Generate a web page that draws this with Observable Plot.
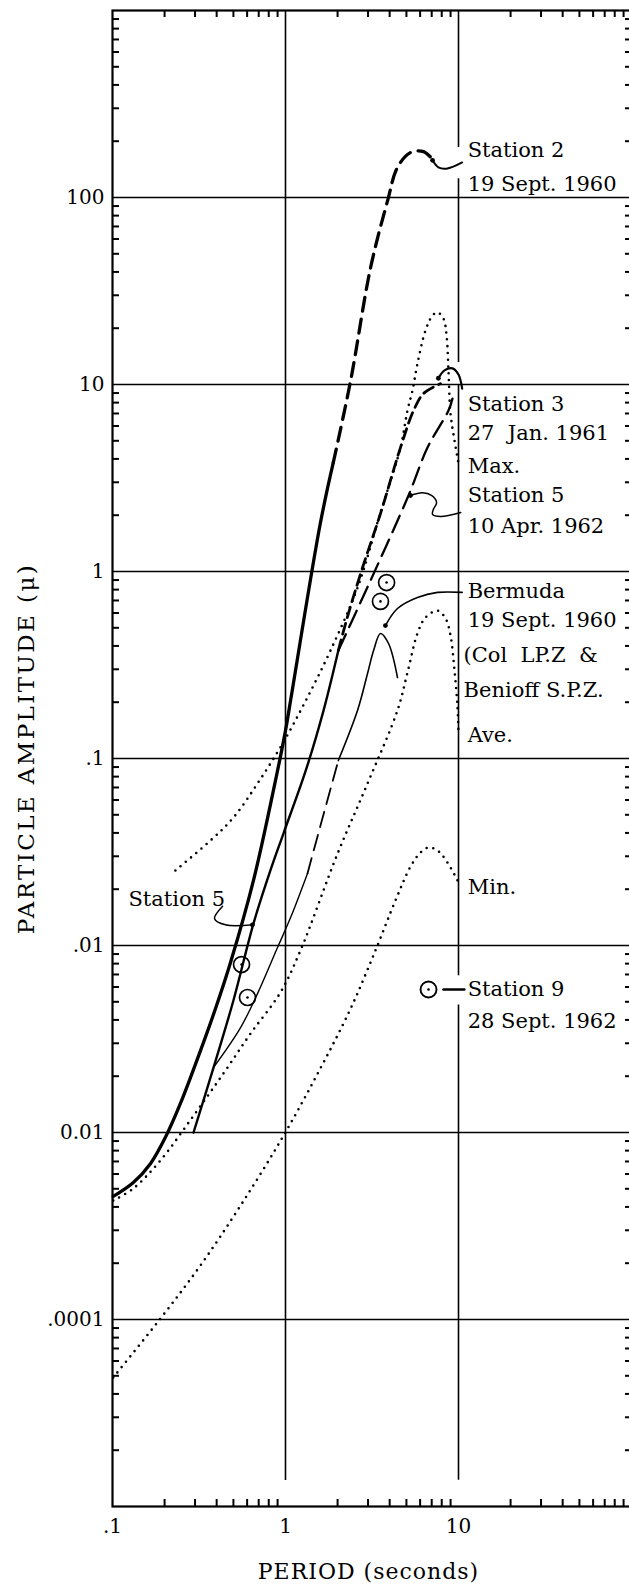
<!DOCTYPE html>
<html><head><meta charset="utf-8">
<script src="https://cdn.jsdelivr.net/npm/d3@7"></script>
<script src="https://cdn.jsdelivr.net/npm/@observablehq/plot@0.6"></script>
<style>
html,body{margin:0;padding:0;background:#fff;}
#chart svg{display:block;}
</style></head>
<body><div id="chart"></div>
<script>
// ---------- data: [period (s), particle amplitude (micron)] ----------
const station2Solid = [[0.101,4.55e-4],[0.132,5.4e-4],[0.166,6.83e-4],[0.202,9.4e-4],[0.247,1.43e-3],[0.323,2.75e-3],[0.394,4.6e-3],[0.481,8.11e-3],[0.653,0.0223],[0.875,0.0762],[1.0,0.141],[1.07,0.204],[1.59,1.81],[1.89,3.83]];
const station2Dashed = [[1.89,3.83],[2.38,10.5],[3.10,42],[3.89,96],[4.44,145],[5.28,174],[6.28,176],[7.16,158]];
const station5Solid = [[0.294,0.001],[0.384,0.00223],[0.500,0.00508],[0.653,0.0131],[0.818,0.0252],[0.973,0.0397],[1.31,0.0863],[1.66,0.181],[2.02,0.378]];
const station5Dashed = [[2.02,0.378],[3.10,0.895],[5.14,2.55],[6.62,4.6],[8.75,7.26],[9.23,8.4]];
const station3Dashed = [[2.02,0.378],[2.31,0.596],[2.79,1.05],[3.54,2.04],[4.62,4.6],[5.50,7.26],[6.28,8.95],[7.87,10.1]];
const bermudaLow = [[0.384,0.00223],[0.550,0.00364],[0.689,0.00553],[0.899,0.00975],[1.07,0.0141],[1.34,0.0243]];
const bermudaMid = [[1.34,0.0243],[1.64,0.0483],[2.02,0.0975]];
const bermudaHigh = [[2.02,0.0975],[2.61,0.181],[2.98,0.285],[3.23,0.378],[3.54,0.466],[3.94,0.412],[4.44,0.271]];
const bermudaMax = [[0.231,0.0252],[0.368,0.0364],[0.500,0.0483],[0.689,0.0735],[0.961,0.120],[1.31,0.204],[1.82,0.378],[2.61,0.821],[3.54,2.07],[4.62,4.60],[5.07,7.26],[5.42,9.3],[5.79,12.9],[6.44,19.4],[7.08,23.4],[7.57,24.3],[8.19,22.5],[8.53,18.3],[8.75,11.9],[8.99,7.0],[9.48,5.02],[10.0,3.78]];
const bermudaAve = [[0.101,4.33e-4],[0.132,5.02e-4],[0.189,7.08e-4],[0.294,1.23e-3],[0.438,2.07e-3],[0.628,3.38e-3],[0.935,5.61e-3],[1.22,9.4e-3],[2.00,0.031],[2.98,0.0735],[4.44,0.181],[5.07,0.288],[5.79,0.466],[6.44,0.567],[7.57,0.618],[8.42,0.561],[8.99,0.455],[9.48,0.296],[9.86,0.192],[10.0,0.136]];
const bermudaMin = [[0.101,4.9e-5],[0.189,1.01e-4],[0.323,1.95e-4],[0.550,4.07e-4],[0.973,9.6e-4],[1.59,2.2e-3],[2.38,4.6e-3],[3.31,9.4e-3],[4.32,0.0174],[5.28,0.0264],[6.03,0.0314],[6.71,0.0334],[7.57,0.0322],[8.63,0.0278],[9.86,0.0223]];
const circlePoints = [[3.84,0.873],[3.54,0.692],[0.557,0.00791],[0.603,0.00527]];
const station9Point = [[6.71,0.00582]];

// leaders (annotation connectors)
const station2Leader = [[7.08,158],[7.65,145],[8.63,143],[10.5,154]];
const station3Leader = [[7.65,10.8],[8.30,11.9],[9.23,12.2],[10.0,11.3],[10.5,9.5]];
const station5Leader = [[5.28,2.55],[6.19,2.64],[6.98,2.55],[7.47,2.34],[7.16,2.15],[7.08,2.02],[7.87,1.97],[10.3,2.07]];
const bermudaLeader = [[3.78,0.514],[4.44,0.634],[5.79,0.726],[7.57,0.773],[10.5,0.773]];
const station5LeftLeader = [[0.433,0.0162],[0.389,0.0139],[0.450,0.0129],[0.644,0.0129]];
const station9Leader = [[8.19,0.00582],[10.8,0.00582]];
const leaderTips = [[7.08,158],[5.28,2.55],[3.78,0.514],[0.644,0.0129],[7.65,10.8]];

// axes
const xTickValues = [0.1, 1, 10];
const xTickLabels = [".1", "1", "10"];
const yTickValues = [1e-4, 1e-3, 1e-2, 1e-1, 1, 10, 100];
const yTickLabels = [".0001", "0.01", ".01", ".1", "1", "10", "100"];
const gridY = [1e-4, 1e-3, 1e-2, 1e-1, 1, 10, 100];
const decadesY = [1e-5, 1e-4, 1e-3, 1e-2, 1e-1, 1, 10, 100];
const decadesX = [0.1, 1, 10];
const multiples = [2, 3, 4, 5, 6, 7, 8, 9];
const minorY = decadesY.flatMap(d => multiples.map(m => d * m));
const minorX = decadesX.flatMap(d => multiples.map(m => d * m));
const tenSegments = [{y1: 1000, y2: 185}, {y1: 126, y2: 13.1}, {y1: 10, y2: 0.0069}, {y1: 0.0048, y2: 1.38e-5}];

// annotation texts
const labels = [
  {t: "Station 2", x: 11.3, y: 164},
  {t: "19 Sept. 1960", x: 11.3, y: 109},
  {t: "Station 3", x: 11.3, y: 7.26},
  {t: "27  Jan. 1961", x: 11.3, y: 5.02},
  {t: "Max.", x: 11.3, y: 3.38},
  {t: "Station 5", x: 11.3, y: 2.34},
  {t: "10 Apr. 1962", x: 11.3, y: 1.60},
  {t: "Bermuda", x: 11.3, y: 0.726},
  {t: "19 Sept. 1960", x: 11.3, y: 0.502},
  {t: "(Col  LP.Z  &", x: 10.7, y: 0.330},
  {t: "Benioff S.P.Z.", x: 10.7, y: 0.212},
  {t: "Ave.", x: 11.3, y: 0.122},
  {t: "Min.", x: 11.3, y: 0.01875},
  {t: "Station 9", x: 11.3, y: 0.0054},
  {t: "28 Sept. 1962", x: 11.3, y: 0.00364},
  {t: "Station 5", x: 0.1237, y: 0.0162}
];

const F = "DejaVu Serif";
const X = d => d[0], Y = d => d[1];
const line = (data, o) => Plot.line(data, {x: X, y: Y, stroke: "black", curve: "catmull-rom", strokeLinejoin: "round", ...o});
const dotted = {strokeWidth: 2.6, strokeDasharray: "0 6.8", strokeLinecap: "round"};

const chart = Plot.plot({
  width: 629, height: 1591,
  marginLeft: 112, marginTop: 10, marginRight: -2, marginBottom: 85,
  x: {type: "log", domain: [0.1, 100], axis: null},
  y: {type: "log", domain: [1e-5, 1000], axis: null},
  style: {fontFamily: F, background: "white", color: "black", overflow: "visible"},
  marks: [
    Plot.ruleY(gridY, {stroke: "black", strokeWidth: 1.6}),
    Plot.ruleX([1], {stroke: "black", strokeWidth: 1.6, insetBottom: 26}),
    Plot.ruleX(tenSegments, {x: 10, y1: "y1", y2: "y2", stroke: "black", strokeWidth: 1.6}),
    Plot.tickY(minorY, {stroke: "black", strokeWidth: 2, insetRight: 519 - 7}),
    Plot.tickY(minorY, {stroke: "black", strokeWidth: 2, insetLeft: 519 - 6}),
    Plot.tickX(minorX, {stroke: "black", strokeWidth: 2, insetBottom: 1496 - 7}),
    Plot.tickX(minorX, {stroke: "black", strokeWidth: 2, insetTop: 1496 - 7}),
    Plot.frame({stroke: "black", strokeWidth: 2.2}),

    // Bermuda dotted envelopes
    line(bermudaMax, dotted),
    line(bermudaAve, dotted),
    line(bermudaMin, dotted),
    // Bermuda measured (thin)
    line(bermudaLow, {strokeWidth: 1.4}),
    line(bermudaMid, {strokeWidth: 1.8, strokeDasharray: "16 8"}),
    line(bermudaHigh, {strokeWidth: 1.6}),
    // Station 2
    line(station2Solid, {strokeWidth: 3.3}),
    line(station2Dashed, {strokeWidth: 3.3, strokeDasharray: "14 8"}),
    // Station 5
    line(station5Solid, {strokeWidth: 2.4}),
    line(station5Dashed, {strokeWidth: 2.3, strokeDasharray: "18 8"}),
    // Station 3
    line(station3Dashed, {strokeWidth: 2.8, strokeDasharray: "11 6"}),

    // leaders
    line(station2Leader, {strokeWidth: 2}),
    line(station3Leader, {strokeWidth: 2.2}),
    line(station5Leader, {strokeWidth: 1.5}),
    line(bermudaLeader, {strokeWidth: 1.6}),
    line(station5LeftLeader, {strokeWidth: 1.5}),
    line(station9Leader, {strokeWidth: 2.6, curve: "linear"}),
    Plot.dot(leaderTips, {x: X, y: Y, r: 2.4, fill: "black"}),

    // circled observations
    Plot.dot(circlePoints, {x: X, y: Y, r: 8, stroke: "black", strokeWidth: 1.7, fill: "none"}),
    Plot.dot(circlePoints, {x: X, y: Y, r: 1.3, fill: "black"}),
    Plot.dot(station9Point, {x: X, y: Y, r: 8, stroke: "black", strokeWidth: 1.9, fill: "none"}),
    Plot.dot(station9Point, {x: X, y: Y, r: 1.3, fill: "black"}),

    // tick labels
    Plot.text(yTickValues, {y: d => d, text: (d, i) => yTickLabels[i], frameAnchor: "left", textAnchor: "end", dx: -8, fontSize: 20, fontFamily: F, fill: "black"}),
    Plot.text(xTickValues, {x: d => d, text: (d, i) => xTickLabels[i], frameAnchor: "bottom", lineAnchor: "top", dy: 12, fontSize: 20, fontFamily: F, fill: "black"}),

    // annotations
    Plot.text(labels, {x: "x", y: "y", text: "t", textAnchor: "start", lineAnchor: "bottom", fontSize: 21, fontFamily: F, fill: "black"}),

    // axis titles
    Plot.text(["PERIOD (seconds)"], {text: d => d, frameAnchor: "bottom", lineAnchor: "bottom", dy: 72, dx: -3.5, fontSize: 22, fontFamily: F, fill: "black"}),
    Plot.text(["PARTICLE AMPLITUDE (\u03bc)"], {text: d => d, frameAnchor: "left", rotate: -90, lineAnchor: "bottom", textAnchor: "middle", dx: -79, dy: -10, fontSize: 23, fontFamily: F, fill: "black"})
  ]
});

d3.select(chart).selectAll("text").each(function() {
  const s = this.textContent;
  if (s === "PERIOD (seconds)") this.setAttribute("letter-spacing", "1px");
  if (s === "PARTICLE AMPLITUDE (\u03bc)") this.setAttribute("letter-spacing", "2.4px");
});
document.getElementById("chart").appendChild(chart);
</script>
</body></html>
